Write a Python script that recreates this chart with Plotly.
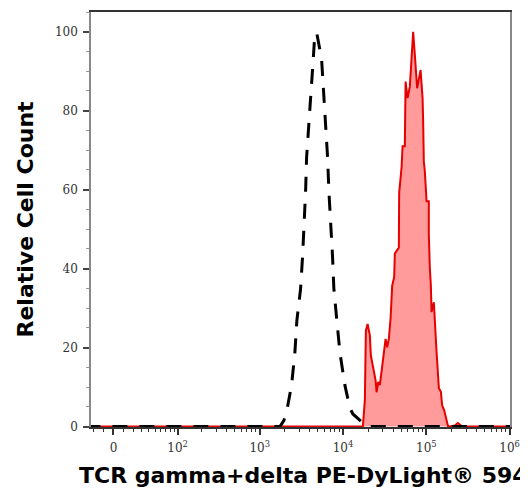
import numpy as np
import plotly.graph_objects as go

# ---- data (fluorescence intensity, relative cell count) ----
neg_intensity = [-30, 1750, 1950, 2120, 2410, 2640, 2790, 3090, 3270, 3420, 3550,
                 3650, 3890, 4190, 4390, 4590, 4850, 5520, 5890, 6220, 6520,
                 6760, 7150, 7480, 7760, 8380, 9160, 10520, 12080, 13120, 15070,
                 17300, 19320, 1100000]
neg_count = [0, 0, 1.6, 4.2, 10.5, 18.8, 26.9, 34.9, 43.3, 51.6, 59.6,
             68.2, 76.3, 85.1, 93.2, 99.7, 99.5, 93.2, 84.4, 76.3, 68.2,
             59.6, 51.6, 43.0, 34.9, 26.6, 18.8, 10.5, 4.7, 3.2, 2.1,
             1.1, 0, 0]

pos_intensity = [-30, 17300, 18280, 18790, 19720, 20990, 21580, 23010, 24600, 25290,
                 26420, 27670, 29040, 31190, 32430, 33880, 35480, 37240, 38900,
                 41110, 41880, 43950, 46770, 47210, 50470, 51880, 55210, 56360,
                 59570, 63390, 69500, 72780, 77620, 85310, 90160, 91620, 93330,
                 95940, 100700, 107150, 107150, 110150, 113400, 115610, 123170,
                 132740, 141580, 149620, 154880, 163680, 174980, 182810, 220290,
                 239330, 267300, 1100000]
pos_count = [0, 0, 6.7, 24.3, 26.0, 23.1, 18.0, 14.8, 11.7, 8.7,
             11.3, 10.5, 13.8, 18.9, 22.2, 20.1, 22.2, 27.4, 35.7,
             37.8, 43.8, 44.5, 45.3, 59.2, 65.7, 71.0, 71.0, 87.4,
             83.2, 86.1, 100, 94.2, 85.7, 90.3, 83.2, 77.3, 67.2,
             64.7, 57.1, 57.1, 48.8, 40.3, 35.7, 29.0, 31.5,
             18.9, 9.7, 8.8, 5.4, 4.2, 1.2, 0, 0.3,
             0.9, 0.1, 0]

x_tick_values = [0, 1e2, 1e3, 1e4, 1e5, 1e6]
x_tick_labels = ["0", "10<sup>2</sup>", "10<sup>3</sup>", "10<sup>4</sup>",
                 "10<sup>5</sup>", "10<sup>6</sup>"]
x_minor_values = [-20, -10, 10, 20, 30, 40, 50, 60, 70, 80, 90] + \
    [m * 10 ** k for k in (2, 3, 4, 5) for m in range(2, 10)]
y_tick_values = [0, 20, 40, 60, 80, 100]

x_title = "TCR gamma+delta PE-DyLight® 594"
y_title = "Relative Cell Count"

# ---- biexponential-like display transform ----
W = 35.0


def tf(v):
    return np.arcsinh(np.asarray(v, dtype=float) / W) / np.log(10)


fig = go.Figure()
fig.add_trace(go.Scatter(
    x=tf(pos_intensity), y=pos_count, mode="lines",
    line=dict(color="#e60000", width=2),
    fill="tozeroy", fillcolor="rgba(255,130,130,0.8)",
    showlegend=False, hoverinfo="skip"))
fig.add_trace(go.Scatter(
    x=tf(neg_intensity), y=neg_count, mode="lines",
    line=dict(color="black", width=3, dash="15px,12px"),
    showlegend=False, hoverinfo="skip"))

tick_font = dict(family="DejaVu Serif", size=12, color="#333")

fig.update_xaxes(
    range=[-0.27, 4.762], showgrid=False, zeroline=False,
    showline=True, linecolor="#333", linewidth=1.5, mirror=True,
    tickmode="array", tickvals=tf(x_tick_values), ticktext=x_tick_labels,
    ticks="outside", ticklen=6, tickwidth=1.5, tickcolor="#333",
    tickfont=tick_font, ticklabelstandoff=3,
    minor=dict(tickvals=tf(x_minor_values), ticks="outside", ticklen=3,
               tickwidth=1, tickcolor="#333"),
)
fig.update_yaxes(
    range=[-0.1, 105], showgrid=False, zeroline=False,
    showline=True, linecolor="#888", linewidth=1.5, mirror=True,
    tickmode="array", tickvals=y_tick_values,
    ticks="outside", ticklen=6, tickwidth=1.5, tickcolor="#444",
    tickfont=tick_font, ticklabelstandoff=3,
    minor=dict(dtick=5, tick0=0, ticks="outside", ticklen=3, tickwidth=1,
               tickcolor="#999"),
)

title_font = dict(family="DejaVu Sans", size=22, color="black")
fig.add_annotation(text="<b>" + x_title + "</b>", xref="paper", yref="paper",
                   x=0.506, y=-0.1175, xanchor="center", yanchor="middle",
                   showarrow=False, font=title_font)
fig.add_annotation(text="<b>" + y_title + "</b>", xref="paper", yref="paper",
                   x=-0.1575, y=0.5, xanchor="center", yanchor="middle",
                   textangle=-90, showarrow=False, font=title_font)

# page body adds an 8px offset; margins compensate so the plot box sits at
# x 91..510, y 10..427 in the window
fig.update_layout(
    width=528, height=494,
    margin=dict(l=83, r=26, t=2, b=75),
    plot_bgcolor="white", paper_bgcolor="white",
)

fig.write_html("out.html")
